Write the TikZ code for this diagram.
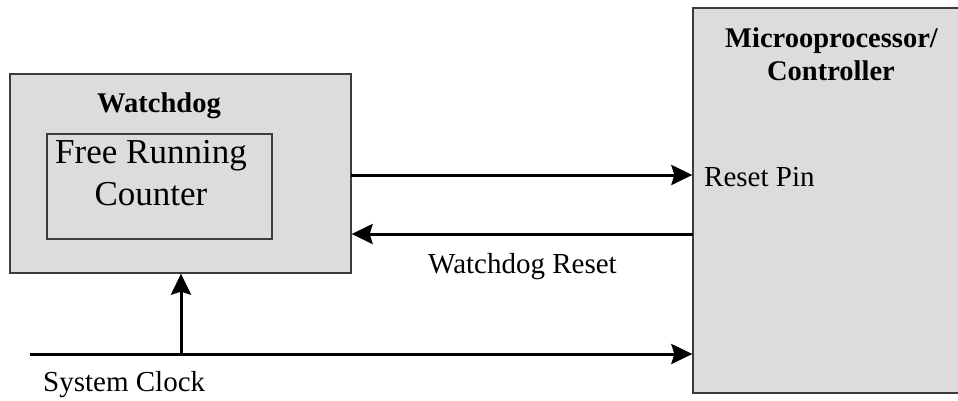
\documentclass[tikz,border=0pt]{standalone}
\usepackage{fontspec}
\setmainfont{Liberation Serif}
\usetikzlibrary{arrows.meta}
\definecolor{boxfill}{HTML}{DCDCDC}
\definecolor{boxline}{HTML}{3C3C3C}
\tikzset{
  block/.style={draw=boxline, line width=1.3pt, fill=boxfill, rectangle, inner sep=0pt},
  inner block/.style={draw=boxline, line width=1.1pt, rectangle, inner sep=0pt},
  title/.style={font=\fontsize{28.5}{33}\selectfont\bfseries, align=center, inner sep=0pt},
  label/.style={font=\fontsize{29}{33}\selectfont, inner sep=0pt},
  counter text/.style={font=\fontsize{35}{42}\selectfont, align=center, inner sep=0pt},
  signal/.style={line width=3pt, -{Stealth[length=21pt, width=20pt, inset=3pt]}},
  wire/.style={line width=3pt}
}
\begin{document}
\begin{tikzpicture}[x=1pt, y=-1pt]
  \useasboundingbox (0,0) rectangle (958,400);
  \clip (0,0) rectangle (958,400);

  % blocks
  \node[block, minimum width=341pt, minimum height=199pt] (wd) at (180.5,173.5) {};
  \node[inner block, minimum width=225pt, minimum height=105pt] (frc) at (159.5,186.5) {};
  \node[block, minimum width=278pt, minimum height=385pt] (mc) at (832,200.5) {};

  % block texts
  \node[title, anchor=base] (wdtitle) at (159,112) {Watchdog};
  \node[counter text, anchor=base] (frc1) at (151,163) {Free Running};
  \node[counter text, anchor=base] (frc2) at (151,205) {Counter};
  \node[title, anchor=base] (mctitle1) at (831.5,47) {Microoprocessor/};
  \node[title, anchor=base] (mctitle2) at (831,80) {Controller};

  % signal labels
  \node[label, anchor=base west] (rstpin) at (704,186) {Reset Pin};
  \node[label, anchor=base west] (wdrst) at (428,273) {Watchdog Reset};
  \node[label, anchor=base west] (sysclk) at (43,391) {System Clock};

  % connectors
  \coordinate (out) at (351,175);
  \coordinate (back) at (693,234);
  \coordinate (clk) at (30,354);
  \coordinate (tap) at (181,354);
  \draw[signal] (out) -- (out -| mc.west);
  \draw[signal] (back) -- (back -| wd.east);
  \draw[signal] (clk) -- (clk -| mc.west);
  \draw[signal] (tap) -- (tap |- wd.south);
\end{tikzpicture}
\end{document}
